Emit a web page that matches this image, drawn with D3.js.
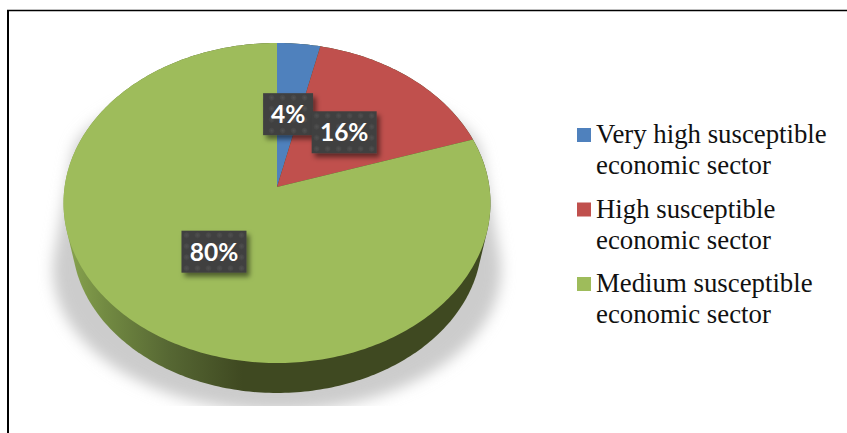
<!DOCTYPE html>
<html>
<head>
<meta charset="utf-8">
<script src="https://cdn.jsdelivr.net/npm/d3@7"></script>
<style>
  html, body { margin: 0; padding: 0; background: #fff; overflow: hidden; }
  svg { display: block; }
</style>
</head>
<body>
<svg id="chart"></svg>
<script>
// data
var categories = ["Very high susceptible economic sector", "High susceptible economic sector", "Medium susceptible economic sector"];
var legendLines = [["Very high susceptible", "economic sector"], ["High susceptible", "economic sector"], ["Medium susceptible", "economic sector"]];
var shares = [3.6, 16.4, 80];
var labels = ["4%", "16%", "80%"];
var colors = ["#4f81bd", "#c0504d", "#9ebc5b"];

var width = 847, height = 433;
var svg = d3.select("#chart").attr("width", width).attr("height", height);
var defs = svg.append("defs");

// pie is tilted: flat disc coordinates (u, t) are projected with a little perspective
var cx = 277, cy = 187, rx = 212.4, ry = 158.4, tilt = -0.1;
function project(u, t, scale, dy) {
    var s = scale || 1;
    var w = 1 + tilt * t;
    return [cx + s * rx * u / w, cy + (dy || 0) + s * ry * t / w];
}
function rim(angle, scale, dy) {
    return project(Math.sin(angle), -Math.cos(angle), scale, dy);
}

var pie = d3.pie().sort(null).value(function(d){ return d; });
var slices = pie(shares);
var lineGen = d3.line();
var ringAngles = d3.range(0, 2 * Math.PI, Math.PI / 180);

// drop shadow under the whole pie: narrow at the top, wide at the bottom, cut off flat
defs.append("filter").attr("id", "pieBlur")
    .attr("x", "-10%").attr("y", "-10%").attr("width", "120%").attr("height", "120%")
    .append("feGaussianBlur").attr("stdDeviation", 7);
defs.append("clipPath").attr("id", "shadowClip")
    .append("rect").attr("x", 0).attr("y", 0).attr("width", width).attr("height", 406);
var shadowPoints = ringAngles.map(function(a){ return [cx + 205 * Math.sin(a), 160 - 80 * Math.cos(a)]; })
    .concat(ringAngles.map(function(a){ return [cx + 224 * Math.sin(a), 270 - 141 * Math.cos(a)]; }));
svg.append("g").attr("clip-path", "url(#shadowClip)")
    .append("path")
    .attr("d", lineGen(d3.polygonHull(shadowPoints)) + "Z")
    .attr("fill", "#cccccc")
    .attr("filter", "url(#pieBlur)");

// side wall = hull of top rim and a slightly smaller bottom rim
var wallPoints = ringAngles.map(function(a){ return rim(a); })
    .concat(ringAngles.map(function(a){ return rim(a, 0.96, 37); }));
var wallGrad = defs.append("linearGradient").attr("id", "wallGrad")
    .attr("gradientUnits", "userSpaceOnUse")
    .attr("x1", 63).attr("y1", 0).attr("x2", 490).attr("y2", 0);
[[0, "#8aa650"], [0.1, "#728a42"], [0.25, "#566733"], [0.42, "#3f4921"], [1, "#3f4921"]].forEach(function(s){
    wallGrad.append("stop").attr("offset", s[0]).attr("stop-color", s[1]);
});
svg.append("path")
    .attr("d", lineGen(d3.polygonHull(wallPoints)) + "Z")
    .attr("fill", "url(#wallGrad)");

// top of the pie
svg.selectAll("path.slice")
    .data(slices)
    .enter()
    .append("path")
    .attr("class", "slice")
    .attr("fill", function(d, i){ return colors[i]; })
    .attr("d", function(d){
        var steps = d3.range(d.startAngle, d.endAngle, Math.PI / 180).concat([d.endAngle]);
        return lineGen([project(0, 0)].concat(steps.map(function(a){ return rim(a); }))) + "Z";
    });

// data labels: dark dotted boxes
var dots = defs.append("pattern").attr("id", "dots")
    .attr("patternUnits", "userSpaceOnUse")
    .attr("width", 11).attr("height", 11);
dots.append("rect").attr("width", 11).attr("height", 11).attr("fill", "#404040");
var dotGrad = defs.append("radialGradient").attr("id", "dotGrad");
dotGrad.append("stop").attr("offset", 0).attr("stop-color", "#525252");
dotGrad.append("stop").attr("offset", 1).attr("stop-color", "#404040");
dots.append("circle").attr("cx", 5.5).attr("cy", 5.5).attr("r", 3.5).attr("fill", "url(#dotGrad)");

var boxShadow = defs.append("filter").attr("id", "boxShadow")
    .attr("x", "-20%").attr("y", "-20%").attr("width", "150%").attr("height", "150%");
boxShadow.append("feDropShadow")
    .attr("dx", 3).attr("dy", 4).attr("stdDeviation", 2.5)
    .attr("flood-color", "#000").attr("flood-opacity", 0.5);

var labelArc = d3.arc().innerRadius(0).outerRadius(0.97);
var labelG = svg.selectAll("g.label")
    .data(slices)
    .enter()
    .append("g")
    .attr("class", "label")
    .attr("transform", function(d){
        var c = labelArc.centroid(d);
        var p = project(c[0], c[1]);
        return "translate(" + p[0] + "," + p[1] + ")";
    });
labelG.append("rect")
    .attr("fill", "url(#dots)")
    .attr("filter", "url(#boxShadow)")
    .attr("y", -21).attr("height", 42);
labelG.append("text")
    .attr("text-anchor", "middle")
    .attr("y", 9)
    .attr("fill", "#fff")
    .style("font-family", "Lato, sans-serif")
    .style("font-weight", 700)
    .style("font-size", "24.5px")
    .text(function(d, i){ return labels[i]; });
labelG.each(function(){
    var g = d3.select(this);
    var w = Math.round(g.select("text").node().getBBox().width) + 16;
    g.select("rect").attr("x", -w / 2).attr("width", w);
});

// legend
var legend = svg.selectAll("g.legend")
    .data(categories)
    .enter()
    .append("g")
    .attr("class", "legend")
    .attr("transform", function(d, i){ return "translate(577," + (128 + i * 74.5) + ")"; });
legend.append("rect")
    .attr("width", 14).attr("height", 14)
    .attr("fill", function(d, i){ return colors[i]; });
legend.each(function(d, i){
    d3.select(this).selectAll("text")
        .data(legendLines[i])
        .enter()
        .append("text")
        .attr("x", 19)
        .attr("y", function(l, j){ return 15 + j * 31; })
        .attr("fill", "#111")
        .style("font-family", "'Liberation Serif', serif")
        .style("font-size", "26.8px")
        .text(function(l){ return l; });
});

// frame round the figure (cut by the image on right and bottom)
svg.append("line").attr("x1", 7).attr("y1", 10.5).attr("x2", width).attr("y2", 10.5)
    .attr("stroke", "#000").attr("stroke-width", 1.5);
svg.append("line").attr("x1", 8).attr("y1", 10).attr("x2", 8).attr("y2", height)
    .attr("stroke", "#000").attr("stroke-width", 2);
</script>
</body>
</html>
